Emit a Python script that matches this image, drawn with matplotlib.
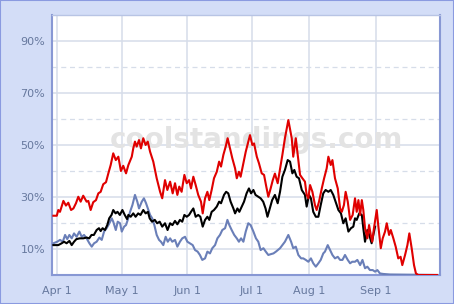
import matplotlib
matplotlib.use("Agg")
import matplotlib.pyplot as plt
from matplotlib.patches import Rectangle

# ---- data (x = season day index, Apr 1 = 0; y = percent) ----
red_x = [-1.7, -0.1, 0.6, 1.4, 3.0, 4.2, 5.3, 6.6, 7.7, 8.9, 10.0, 11.1, 12.3, 13.9, 14.7, 15.8,
         17.0, 18.3, 19.4, 20.5, 21.7, 23.0, 24.1, 25.2, 26.4, 27.6, 28.8, 30.0, 31.1, 32.4,
         33.5, 35.1, 35.8, 36.6, 37.4, 38.5, 39.4, 40.5, 41.6, 42.6, 43.7, 45.2, 46.8, 48.4,
         49.4, 50.7, 51.8, 53.1, 54.3, 55.4, 56.5, 57.4, 58.5, 59.8, 60.9, 62.0, 62.9, 64.0,
         65.1, 66.3, 67.6, 68.4, 69.5, 70.6, 71.5, 72.6, 73.7, 75.0, 76.1, 77.0, 78.1, 79.2,
         80.1, 81.2, 82.3, 83.6, 84.4, 85.4, 86.2, 87.5, 88.6, 89.8, 90.6, 91.7, 92.5, 93.8,
         94.8, 96.1, 97.2, 98.1, 99.2, 100.3, 101.3, 102.3, 103.6, 105.8, 107.0, 108.6, 110.2,
         110.9, 112.1, 113.0, 114.1, 115.2, 116.4, 117.2, 118.0, 118.8, 119.9, 121.1, 121.9,
         123.0, 124.3, 125.4, 126.6, 127.4, 128.5, 129.3, 130.5, 131.8, 132.9, 133.7, 134.7,
         135.5, 136.5, 137.6, 138.8, 139.9, 140.7, 141.5, 142.3, 143.1, 143.8, 144.6, 145.7,
         146.5, 147.3, 148.0, 148.8, 150.1, 150.8, 152.0, 152.9, 154.0, 154.8, 155.9, 156.7,
         157.9, 159.0, 160.2, 161.3, 162.1, 163.4, 164.5, 165.4, 166.5, 167.6, 168.5, 169.6, 178.4]
red_y = [22.8, 22.8, 25.0, 24.3, 28.5, 26.7, 27.8, 25.0, 25.6, 27.6, 30.1, 28.2, 30.5, 28.2, 28.5, 25.0,
         28.0, 28.8, 31.4, 32.0, 34.9, 35.7, 39.1, 42.3, 46.8, 44.2, 45.5, 40.0, 42.0, 39.1,
         42.3, 45.5, 48.7, 51.3, 49.4, 51.9, 48.7, 52.6, 50.0, 51.3, 47.4, 43.6, 37.2, 32.0,
         29.5, 36.5, 32.7, 35.9, 31.4, 35.3, 30.8, 34.0, 32.0, 38.5, 35.3, 36.5, 33.3, 37.8,
         34.6, 30.8, 28.2, 23.7, 29.5, 32.0, 28.8, 32.7, 37.2, 39.7, 43.6, 41.7, 46.2, 49.4,
         52.6, 48.7, 44.9, 41.0, 37.2, 39.7, 37.8, 43.0, 47.4, 51.3, 53.8, 50.0, 50.6, 45.5,
         43.0, 39.1, 38.5, 34.6, 30.1, 33.3, 36.5, 39.0, 35.3, 46.2, 52.6, 59.6, 52.6,
         45.5, 52.6, 46.2, 38.5, 37.2, 35.9, 30.8, 29.5, 34.6, 32.0, 26.9, 25.0,
         28.2, 33.3, 37.2, 41.0, 45.5, 42.3, 44.2, 37.2, 33.3, 25.6, 24.3, 26.9,
         32.0, 28.2, 21.2, 23.1, 29.5, 24.3, 28.8, 23.1, 28.8, 25.0, 18.0, 14.1,
         19.2, 15.4, 12.8, 18.0, 25.0, 19.2, 10.3, 14.1, 16.7, 19.9, 15.4, 17.3,
         14.1, 10.9, 6.4, 7.0, 3.8, 7.7, 11.5, 16.0, 10.3, 3.8, 0.6, 0.0, 0.0]

black_x = [-1.7, 0.6, 2.2, 3.3, 4.5, 5.8, 6.9, 8.0, 9.1, 10.7, 12.3, 13.9, 15.1, 16.2, 17.3, 18.6,
           19.7, 20.5, 21.4, 22.5, 23.6, 24.5, 25.6, 26.4, 27.5, 28.4, 29.5, 30.7, 31.8, 32.9,
           33.5, 34.6, 35.8, 36.9, 38.1, 39.2, 40.5, 41.6, 42.7, 43.5, 44.6, 45.9, 47.0, 48.2,
           49.4, 50.7, 51.9, 53.1, 54.2, 55.4, 56.5, 57.7, 58.8, 59.8, 60.9, 62.0, 62.9, 64.0,
           65.1, 66.3, 67.3, 68.4, 69.5, 70.6, 71.5, 72.6, 73.7, 75.0, 76.1, 77.0, 78.4, 79.4,
           80.4, 81.5, 82.8, 83.6, 84.7, 85.6, 86.7, 87.8, 89.0, 90.1, 91.1, 92.2, 93.2, 94.5,
           95.6, 96.8, 97.9, 98.8, 99.9, 101.0, 102.3, 103.6, 104.7, 105.8, 107.0, 108.3, 109.4,
           110.5, 111.4, 112.5, 113.6, 114.9, 116.4, 117.2, 118.3, 119.2, 120.3, 121.5, 122.7,
           123.8, 125.0, 126.1, 127.4, 128.5, 129.7, 130.8, 132.1, 133.3, 134.4, 135.5, 136.8,
           138.0, 139.1, 139.9, 140.7, 141.9, 143.1, 143.8, 144.6, 145.7, 146.6, 147.7, 148.5, 149.3]
black_y = [11.5, 11.5, 12.2, 12.8, 12.2, 13.1, 11.5, 12.8, 13.8, 14.1, 14.1, 14.4, 14.1, 15.4, 15.4, 17.3,
           18.0, 16.9, 18.0, 17.3, 19.2, 21.8, 23.1, 25.0, 23.7, 24.3, 23.1, 25.0, 23.1, 21.5,
           23.1, 22.4, 23.7, 22.4, 23.7, 23.1, 25.0, 23.7, 24.3, 21.8, 20.5, 21.2, 19.9, 20.5,
           18.6, 19.9, 17.3, 19.9, 19.2, 20.8, 19.5, 21.2, 20.5, 23.1, 22.4, 23.1, 24.3, 25.6,
           22.4, 23.1, 22.4, 18.6, 21.2, 22.4, 21.2, 24.3, 25.0, 26.3, 28.2, 27.6, 30.8, 32.0,
           31.4, 28.2, 25.6, 23.7, 25.6, 24.3, 26.3, 28.2, 31.4, 33.3, 31.4, 32.7, 30.8, 30.1,
           29.5, 28.2, 25.6, 22.4, 25.6, 28.8, 30.8, 27.6, 32.0, 37.8, 40.4, 44.2, 43.6,
           39.1, 40.4, 37.8, 37.2, 32.7, 30.8, 26.3, 30.8, 29.5, 24.3, 22.4, 22.4,
           26.9, 31.4, 32.7, 32.0, 32.7, 30.8, 28.2, 25.0, 23.7, 19.9, 21.8, 16.7,
           18.0, 18.6, 21.8, 21.2, 23.7, 23.1, 18.0, 12.8, 17.3, 15.4, 12.2, 15.4, 18.6]

blue_x = [-1.7, 0.1, 1.4, 2.7, 3.8, 4.8, 5.8, 6.9, 8.0, 9.2, 10.5, 11.6, 12.7, 13.9, 15.2, 16.3,
          17.4, 18.6, 19.9, 21.0, 22.1, 23.3, 24.6, 25.7, 26.4, 27.6, 28.5, 29.6, 30.4, 31.5,
          32.4, 33.2, 34.3, 35.4, 36.6, 37.7, 38.5, 39.8, 40.8, 41.8, 42.9, 43.7, 44.7, 45.7,
          46.8, 47.9, 48.8, 49.9, 51.0, 52.0, 53.1, 54.1, 55.4, 56.5, 57.7, 58.8, 60.1, 61.2,
          62.4, 63.7, 64.8, 66.0, 67.1, 68.2, 69.5, 70.6, 71.8, 72.9, 74.2, 75.3, 76.5, 77.6,
          78.9, 80.0, 80.9, 82.0, 83.2, 84.4, 85.4, 86.4, 87.5, 88.6, 89.8, 90.9, 92.2, 93.4,
          94.5, 95.6, 96.9, 98.0, 99.2, 100.3, 101.6, 102.8, 104.7, 105.8, 107.0, 108.6, 109.9,
          110.9, 112.1, 113.3, 114.6, 115.6, 116.8, 118.0, 119.2, 120.3, 121.5, 122.7, 123.8,
          125.0, 125.8, 127.1, 128.2, 129.3, 130.5, 131.8, 132.9, 134.0, 135.2, 136.5, 137.6,
          138.6, 139.9, 141.0, 142.3, 143.4, 144.6, 145.7, 146.9, 148.2, 149.3, 150.4, 151.6,
          153.2, 156.3, 178.4]
blue_y = [12.2, 12.8, 13.5, 12.8, 15.4, 13.8, 15.4, 14.1, 16.0, 14.7, 16.7, 14.7, 15.4, 14.1, 12.2, 10.9,
          12.2, 12.8, 14.4, 13.5, 16.7, 18.0, 19.9, 21.8, 20.5, 17.3, 20.5, 19.9, 16.7, 18.6,
          19.2, 21.2, 24.3, 26.9, 30.8, 28.2, 25.6, 28.2, 29.5, 27.6, 25.0, 23.1, 21.8, 19.2,
          15.4, 13.5, 12.8, 11.5, 14.7, 12.8, 14.1, 12.8, 13.5, 10.9, 12.8, 14.1, 14.7, 12.8,
          12.2, 11.5, 9.6, 9.0, 7.7, 5.8, 6.4, 9.0, 8.3, 10.3, 11.5, 14.1, 15.4, 17.3,
          18.0, 21.2, 19.2, 17.3, 15.4, 14.1, 12.8, 14.1, 12.8, 16.7, 19.9, 19.2, 16.7, 14.1,
          12.8, 9.6, 10.3, 9.0, 7.7, 8.0, 8.3, 9.0, 10.3, 11.5, 12.8, 15.4, 12.8,
          10.3, 10.9, 7.7, 6.4, 6.4, 5.8, 5.1, 6.4, 4.5, 3.2, 4.5, 5.8,
          8.3, 9.0, 11.5, 9.6, 7.7, 6.4, 7.0, 5.8, 5.8, 7.7, 5.8, 4.5,
          5.1, 5.1, 5.8, 3.8, 5.8, 2.6, 3.2, 1.9, 1.9, 1.3, 1.9, 0.6,
          0.4, 0.2, 0.0]

tick_pos = [0, 30.4, 61.2, 91.4, 118.4, 149.6]
tick_labels = ["Apr 1", "May 1", "Jun 1", "Jul 1", "Aug 1", "Sep 1"]
y_major = [10, 30, 50, 70, 90]
y_minor = [20, 40, 60, 80]

# ---- figure ----
fig = plt.figure(figsize=(4.54, 3.04), dpi=100, facecolor="#d3ddf7")
ax = fig.add_axes([52/454, 29/304, 388/454, 260/304])
ax.set_facecolor("white")
ax.set_xlim(-2.35, 179.8)
ax.set_ylim(0, 100)

for v in y_minor:
    ax.axhline(v, color="#d6dde9", lw=0.9, ls=(0, (4, 3)), zorder=0)
for v in y_major:
    ax.axhline(v, color="#d6dde9", lw=1.1, zorder=0)
for v in tick_pos:
    ax.axvline(v, color="#d6dde9", lw=1.1, zorder=0)

ax.text(0.526, 0.52, "coolstandings.com", transform=ax.transAxes, ha="center", va="center",
        fontsize=20, fontweight="bold", color="#e3e3e3", zorder=1)

ax.plot(blue_x, blue_y, color="#6a7fb8", lw=1.5, zorder=3)
ax.plot(black_x, black_y, color="#000000", lw=1.5, zorder=4)
ax.plot(red_x, red_y, color="#e00000", lw=1.5, zorder=5)

ax.set_xticks(tick_pos)
ax.set_xticklabels(tick_labels)
ax.set_yticks(y_major)
ax.set_yticklabels([f"{v}%" for v in y_major])
ax.tick_params(axis="both", length=0, labelsize=8, labelcolor="#66789e")
ax.tick_params(axis="y", pad=5)
ax.tick_params(axis="x", pad=8)

for side in ["left", "bottom", "right"]:
    ax.spines[side].set_color("#8898d4")
    ax.spines[side].set_linewidth(1.5)
ax.spines["top"].set_color("#b8c4e4")
ax.spines["top"].set_linewidth(1.0)

fig.patches.append(Rectangle((0, 0), 1, 1, transform=fig.transFigure, fill=False,
                             edgecolor="#8a9ae0", lw=1.5))

fig.savefig("out.png", dpi=100, facecolor=fig.get_facecolor())
